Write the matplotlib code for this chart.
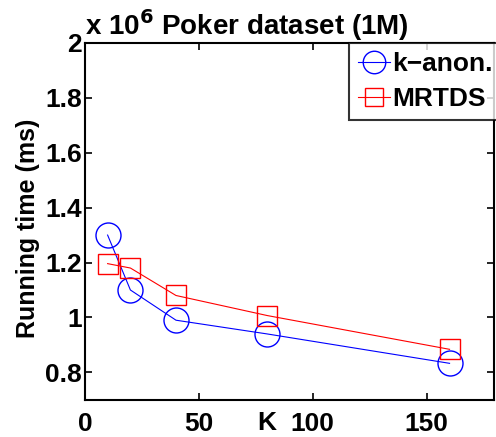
import matplotlib.pyplot as plt

plt.rcParams['font.family'] = ['Liberation Sans', 'DejaVu Sans']
plt.rcParams['font.weight'] = 'bold'

k_values = [10, 20, 40, 80, 160]
kanon_time = [1.30, 1.10, 0.99, 0.94, 0.833]
mrtds_time = [1.196, 1.18, 1.08, 1.007, 0.884]

fig = plt.figure(figsize=(4.96, 4.37), dpi=100)
ax = fig.add_axes([0.171, 0.085, 0.825, 0.817])

ax.plot(k_values, kanon_time, '-o', color='#0000ff', linewidth=0.8,
        markersize=18, markerfacecolor='none', markeredgewidth=1.0, label='k\u2212anon.')
ax.plot(k_values, mrtds_time, '-s', color='#ff0000', linewidth=0.8,
        markersize=14, markerfacecolor='none', markeredgewidth=1.0, label='MRTDS')

ax.set_xlim(0, 179.5)
ax.set_ylim(0.7, 2.0)
ax.set_xticks([0, 50, 100, 150])
ax.set_yticks([0.8, 1.0, 1.2, 1.4, 1.6, 1.8, 2.0])
ax.set_yticklabels(['0.8', '1', '1.2', '1.4', '1.6', '1.8', '2'])
ax.tick_params(direction='in', top=True, right=True, labelsize=19, length=5, width=1.2)
ax.tick_params(axis='y', pad=2)
ax.tick_params(axis='x', pad=9)
for s in ax.spines.values():
    s.set_linewidth(1.5)

ax.set_ylabel('Running time (ms)', fontsize=18, fontweight='bold', labelpad=0)
ax.yaxis.set_label_coords(-0.11, 0.48)
ax.text(0.445, -0.066, 'K', transform=ax.transAxes, ha='center', va='center',
        fontsize=19, fontweight='bold')
ax.text(0.0, 1.0, r'x 10$^{\mathbf{6}}$ Poker dataset (1M)', transform=ax.transAxes,
        ha='left', va='bottom', fontsize=20, fontweight='bold')

leg = ax.legend(loc='upper left', bbox_to_anchor=(349 / 496, 1 - 43 / 437),
                bbox_transform=fig.transFigure, fontsize=19, frameon=True, fancybox=False,
                edgecolor='black', handlelength=1.2, handletextpad=0.1, borderpad=0.35,
                labelspacing=0.4, borderaxespad=0, markerscale=0.9)
leg.get_frame().set_linewidth(1.5)

fig.savefig('out.png', dpi=100)
